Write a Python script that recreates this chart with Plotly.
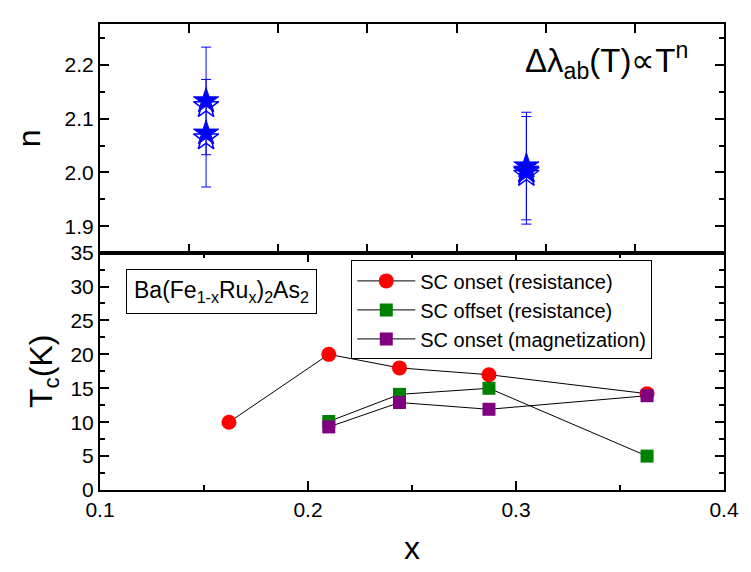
import plotly.graph_objects as go

# ---- data ----
# top panel: exponent n
x_n = [0.151, 0.151, 0.305, 0.305]
n_filled = [2.133, 2.073, 2.012, 2.004]
n_open = [2.124, 2.064, 2.002, 1.996]
n_err = [0.10, 0.10, 0.10, 0.10]

# bottom panel: Tc
x_onset_res = [0.162, 0.210, 0.244, 0.287, 0.363]
tc_onset_res = [10.0, 20.0, 18.0, 17.0, 14.2]
x_offset_res = [0.210, 0.244, 0.287, 0.363]
tc_offset_res = [10.1, 14.1, 15.0, 5.0]
x_onset_mag = [0.210, 0.244, 0.287, 0.363]
tc_onset_mag = [9.3, 12.9, 11.9, 13.9]

names = ["SC onset (resistance)", "SC offset (resistance)", "SC onset (magnetization)"]

FONT = "Liberation Sans, Arial, sans-serif"
BLUE = "#0000ff"

fig = go.Figure()

# top panel
fig.add_trace(go.Scatter(
    x=x_n, y=n_open, mode="markers", xaxis="x2", yaxis="y2", showlegend=False,
    marker=dict(symbol="star-open", size=19, color=BLUE, line=dict(color=BLUE, width=1.5)),
))
fig.add_trace(go.Scatter(
    x=x_n, y=n_filled, mode="markers", xaxis="x2", yaxis="y2", showlegend=False,
    marker=dict(symbol="star", size=19, color=BLUE, line=dict(color=BLUE, width=1)),
    error_y=dict(type="data", array=n_err, visible=True, color=BLUE, thickness=1, width=5),
))

# bottom panel
fig.add_trace(go.Scatter(
    x=x_onset_res, y=tc_onset_res, mode="lines+markers", name=names[0],
    line=dict(color="black", width=1),
    marker=dict(symbol="circle", size=15, color="#ff0000", line=dict(width=0)),
))
fig.add_trace(go.Scatter(
    x=x_offset_res, y=tc_offset_res, mode="lines+markers", name=names[1],
    line=dict(color="black", width=1),
    marker=dict(symbol="square", size=13, color="#008000", line=dict(width=0)),
))
fig.add_trace(go.Scatter(
    x=x_onset_mag, y=tc_onset_mag, mode="lines+markers", name=names[2],
    line=dict(color="black", width=1),
    marker=dict(symbol="square", size=13, color="#800080", line=dict(width=0)),
))

split = 0.5094

axis_common = dict(
    showline=True, linecolor="black", linewidth=2, mirror="allticks",
    ticks="inside", tickcolor="black", tickwidth=1.5, ticklen=9,
    showgrid=False, zeroline=False,
    tickfont=dict(family=FONT, size=21, color="black"),
)

fig.update_layout(
    width=751, height=572,
    margin=dict(l=100, r=15, t=13, b=82),
    paper_bgcolor="white", plot_bgcolor="white",
    font=dict(family=FONT, color="black"),
    xaxis=dict(**axis_common, domain=[0, 1], anchor="y", range=[0.1, 0.4],
               tick0=0.1, dtick=0.1, tickformat=".1f",
               minor=dict(ticks="inside", ticklen=5, tickcolor="black", tickwidth=1.5, dtick=0.05),
               title=dict(text="x", font=dict(family=FONT, size=32), standoff=16)),
    yaxis=dict(**axis_common, domain=[0, split], anchor="x", range=[0, 35],
               tick0=0, dtick=5,
               minor=dict(ticks="inside", ticklen=5, tickcolor="black", tickwidth=1.5, dtick=2.5),
               title=dict(text="T<sub>c</sub>(K)", font=dict(family=FONT, size=32), standoff=8)),
    xaxis2=dict(**axis_common, domain=[0, 1], anchor="y2", range=[0.1, 0.4],
                tick0=0.1, dtick=0.3 / 7, showticklabels=False),
    yaxis2=dict(**axis_common, domain=[split, 1], anchor="x2", range=[1.851, 2.276],
                tick0=1.9, dtick=0.1, tickformat=".1f",
                minor=dict(ticks="inside", ticklen=5, tickcolor="black", tickwidth=1.5, dtick=0.05),
                title=dict(text="n", font=dict(family=FONT, size=32), standoff=14)),
    legend=dict(
        x=0.4027, y=0.4927, xanchor="left", yanchor="top",
        bordercolor="black", borderwidth=1, bgcolor="white",
        font=dict(family=FONT, size=20, color="black"),
        itemwidth=58, tracegroupgap=0,
    ),
    annotations=[
        dict(text="Ba(Fe<sub>1-x</sub>Ru<sub>x</sub>)<sub>2</sub>As<sub>2</sub>",
             xref="x", yref="y", x=0.1585, y=29.2, xanchor="center", yanchor="middle",
             showarrow=False, font=dict(family=FONT, size=23, color="black"),
             bordercolor="black", borderwidth=1, borderpad=7, bgcolor="white"),
        dict(text="Δλ<sub>ab</sub>(T)∝T<sup>n</sup>",
             xref="x2", yref="y2", x=0.3033, y=2.208, xanchor="left", yanchor="middle",
             showarrow=False, font=dict(family=FONT, size=33, color="black")),
    ],
)

fig.write_html("out.html")
